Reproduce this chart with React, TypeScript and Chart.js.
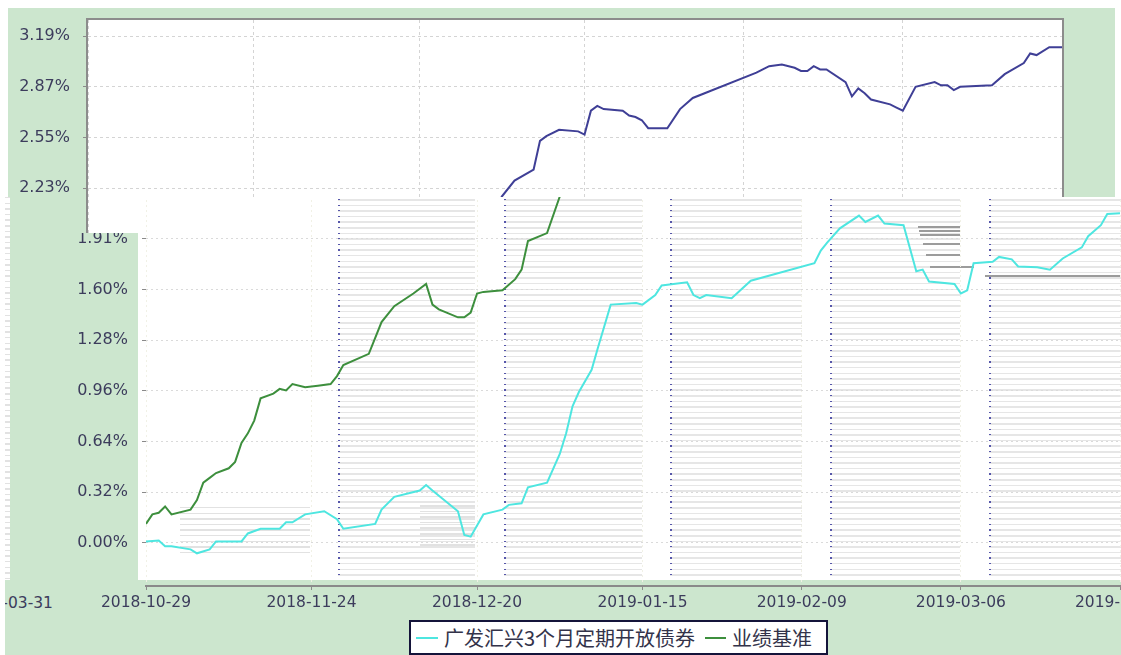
import React, { useEffect, useRef } from 'react';
import { Chart, registerables } from 'chart.js';

Chart.register(...registerables);

// ---- data (x = days since 2018-10-29) ----
const xTickDays = [0, 26, 52, 78, 103, 128, 153];
const xTickLabels = ['2018-10-29', '2018-11-24', '2018-12-20', '2019-01-15', '2019-02-09', '2019-03-06', '2019-03-31'];
const yTickValues = [0, 0.319, 0.638, 0.957, 1.276, 1.595, 1.914, 2.233, 2.552, 2.871, 3.19];
const yTickLabels = ['0.00%', '0.32%', '0.64%', '0.96%', '1.28%', '1.60%', '1.91%', '2.23%', '2.55%', '2.87%', '3.19%'];
const seriesNames = ['广发汇兴3个月定期开放债券', '业绩基准'];

const fundDays = [0, 2, 3, 4, 7, 8, 10, 11, 15, 16, 18, 21, 22, 23, 25, 28, 30, 31, 36, 37, 39, 43, 44, 45, 49, 50, 51, 53, 56, 57, 59, 60, 63, 65, 66, 67, 68, 70, 71, 73, 77, 78, 80, 81, 85, 86, 87, 88, 92, 95, 105, 106, 107, 109, 112, 113, 115, 116, 119, 121, 122, 123, 127, 128, 129, 130, 133, 134, 136, 137, 140, 142, 144, 147, 148, 150, 151, 153];
const fundValues = [0.01, 0.015, -0.02, -0.02, -0.04, -0.065, -0.04, 0.01, 0.01, 0.06, 0.09, 0.09, 0.13, 0.13, 0.18, 0.2, 0.15, 0.09, 0.12, 0.21, 0.29, 0.33, 0.365, 0.33, 0.2, 0.05, 0.04, 0.18, 0.21, 0.24, 0.25, 0.35, 0.38, 0.56, 0.69, 0.86, 0.95, 1.09, 1.23, 1.5, 1.51, 1.5, 1.56, 1.62, 1.64, 1.56, 1.54, 1.56, 1.54, 1.65, 1.76, 1.84, 1.89, 1.98, 2.06, 2.02, 2.06, 2.01, 2.0, 1.71, 1.72, 1.645, 1.63, 1.57, 1.59, 1.76, 1.77, 1.8, 1.785, 1.74, 1.735, 1.72, 1.79, 1.86, 1.93, 2.0, 2.07, 2.075];

const benchmarkDays = [0, 1, 2, 3, 4, 7, 8, 9, 10, 11, 13, 14, 15, 16, 17, 18, 20, 21, 22, 23, 25, 27, 29, 30, 31, 35, 37, 39, 42, 44, 45, 46, 49, 50, 51, 52, 53, 56, 58, 59, 60, 63, 65, 67, 70, 71, 72, 74, 77, 78, 79, 80, 81, 84, 85, 86, 87, 88, 91, 93, 95, 105, 106, 107, 109, 111, 112, 113, 114, 115, 116, 119, 120, 121, 122, 123, 126, 127, 128, 130, 133, 134, 135, 136, 137, 142, 144, 147, 148, 149, 151, 153];
const benchmarkValues = [0.12, 0.18, 0.19, 0.23, 0.18, 0.21, 0.27, 0.38, 0.41, 0.44, 0.47, 0.51, 0.63, 0.69, 0.77, 0.91, 0.94, 0.97, 0.96, 1.0, 0.98, 0.99, 1.0, 1.05, 1.12, 1.19, 1.39, 1.49, 1.57, 1.63, 1.5, 1.47, 1.42, 1.42, 1.45, 1.57, 1.58, 1.59, 1.66, 1.72, 1.9, 1.95, 2.18, 2.28, 2.35, 2.53, 2.56, 2.6, 2.59, 2.57, 2.72, 2.75, 2.73, 2.72, 2.69, 2.68, 2.66, 2.61, 2.61, 2.73, 2.8, 2.96, 2.98, 3.0, 3.01, 2.99, 2.97, 2.97, 3.0, 2.98, 2.98, 2.9, 2.81, 2.86, 2.83, 2.79, 2.76, 2.74, 2.72, 2.87, 2.9, 2.88, 2.88, 2.85, 2.87, 2.88, 2.95, 3.02, 3.08, 3.07, 3.12, 3.12];

const X_MIN = 0;
const X_MAX = 153;
const Y_MIN = -0.2706;
const Y_MAX = 3.2907;

const GREEN_BG = '#cce6ce';
const TEXT = '#3c3c5c';
const CYAN = '#4ee6e0';
const BENCH_GREEN = '#3d8f3d';
const BENCH_BLUE = '#3f3f96';
const FONT = 'DejaVu Sans';

function buildChart(canvas: HTMLCanvasElement, upper: boolean) {
  const framePlugin = {
    id: 'framePlugin',
    beforeDraw(chart: any) {
      if (!upper) return;
      const { ctx, chartArea } = chart;
      ctx.save();
      ctx.fillStyle = '#ffffff';
      ctx.fillRect(chartArea.left, chartArea.top, chartArea.right - chartArea.left, chartArea.bottom - chartArea.top);
      ctx.restore();
    },
    afterDraw(chart: any) {
      if (!upper) return;
      const { ctx, chartArea } = chart;
      ctx.save();
      ctx.strokeStyle = '#8c8c8c';
      ctx.lineWidth = 2;
      ctx.strokeRect(chartArea.left - 1, chartArea.top - 1, chartArea.right - chartArea.left + 2, chartArea.bottom - chartArea.top + 2);
      ctx.restore();
    },
  };

  return new Chart(canvas, {
    type: 'line',
    data: {
      datasets: [
        {
          label: seriesNames[0],
          data: fundDays.map((d, i) => ({ x: d, y: fundValues[i] })),
          borderColor: CYAN,
          backgroundColor: CYAN,
          borderWidth: 2,
        },
        {
          label: seriesNames[1],
          data: benchmarkDays.map((d, i) => ({ x: d, y: benchmarkValues[i] })),
          borderColor: upper ? BENCH_BLUE : BENCH_GREEN,
          backgroundColor: upper ? BENCH_BLUE : BENCH_GREEN,
          borderWidth: 2,
        },
      ],
    },
    options: {
      responsive: false,
      animation: false,
      layout: { padding: { left: 0, top: 12, right: upper ? 53 : 1, bottom: 0 } },
      elements: { point: { radius: 0 }, line: { tension: 0 } },
      plugins: { legend: { display: false }, tooltip: { enabled: false } },
      scales: {
        x: {
          type: 'linear',
          min: X_MIN,
          max: X_MAX,
          afterBuildTicks: (s: any) => {
            s.ticks = xTickDays.map((v) => ({ value: v }));
          },
          afterFit: (s: any) => {
            s.height = 69;
            s.paddingLeft = 0;
            s.paddingRight = 0;
          },
          ticks: {
            display: !upper,
            autoSkip: false,
            maxRotation: 0,
            minRotation: 0,
            padding: 4,
            color: TEXT,
            font: { family: FONT, size: 15.5 },
            callback: (_v: any, i: number) => xTickLabels[i],
          },
          grid: upper
            ? { color: '#d4d4d4', lineWidth: 1, drawTicks: false }
            : { color: '#f1f1e6', lineWidth: 1, tickLength: 4, tickColor: '#8a8a8a', tickWidth: 1 },
          border: upper
            ? { display: false, dash: [3, 3] }
            : { display: true, color: '#8a8a8a', width: 2, dash: [2, 3] },
        },
        y: {
          type: 'linear',
          min: Y_MIN,
          max: Y_MAX,
          afterBuildTicks: (s: any) => {
            s.ticks = yTickValues.map((v) => ({ value: v }));
          },
          afterFit: (s: any) => {
            s.width = upper ? 80 : 141;
            s.paddingTop = 0;
            s.paddingBottom = 0;
          },
          ticks: {
            padding: upper ? 13 : 14,
            color: TEXT,
            font: { family: FONT, size: 16 },
            callback: (_v: any, i: number) => yTickLabels[i],
          },
          grid: {
            color: upper ? '#d4d4d4' : '#dadada',
            lineWidth: 1,
            tickLength: upper ? 5 : 4,
            tickColor: '#8a8a8a',
            tickWidth: 1,
          },
          border: { display: false, dash: upper ? [3, 3] : [2, 3] },
        },
      },
    },
    plugins: [framePlugin],
  } as any);
}

function ChartCanvas({ upper, width, height }: { upper: boolean; width: number; height: number }) {
  const ref = useRef<HTMLCanvasElement>(null);
  useEffect(() => {
    if (!ref.current) return;
    const chart = buildChart(ref.current, upper);
    return () => chart.destroy();
  }, [upper]);
  return (
    <canvas
      ref={ref}
      width={width}
      height={height}
      style={{ position: 'absolute', left: 0, top: 0, width, height, background: upper ? GREEN_BG : 'transparent' }}
    />
  );
}

const stripeBg =
  'repeating-linear-gradient(to bottom, #5656aa 0px, #5656aa 1.2px, transparent 1.2px, transparent 5.6px), ' +
  'repeating-linear-gradient(to bottom, #e6e6e6 0px, #e6e6e6 1.5px, transparent 1.5px, transparent 5.6px)';
const plainStripe = 'repeating-linear-gradient(to bottom, #e2e2e2 0px, #e2e2e2 1.5px, transparent 1.5px, transparent 5.6px)';

export default function App() {
  const LX = 5;
  const LY = 8;
  // rendering-glitch texture, page coordinates
  const cols = [
    [338, 475],
    [504, 642],
    [670, 802],
    [830, 960],
    [989, 1121],
  ];
  const patches = [
    [180, 507, 130, 46],
    [420, 505, 55, 45],
  ];
  const darkBars = [
    [918, 226, 42],
    [919, 230, 41],
    [920, 234, 40],
    [923, 243, 37],
    [926, 254, 34],
    [930, 266, 44],
    [985, 275, 136],
  ];
  return (
    <div style={{ position: 'absolute', left: 0, top: 0, width: 1121, height: 655, overflow: 'hidden', background: '#fff' }}>
      {/* upper layer */}
      <div style={{ position: 'absolute', left: 8, top: 8, width: 1107, height: 647 }}>
        <ChartCanvas upper={true} width={1107} height={647} />
      </div>
      {/* lower layer */}
      <div
        style={{
          position: 'absolute',
          left: LX,
          top: LY,
          width: 1116,
          height: 647,
          overflow: 'hidden',
          clipPath: 'polygon(0px 189px, 72px 189px, 72px 225px, 133px 225px, 133px 189px, 1116px 189px, 1116px 647px, 0px 647px)',
          background: GREEN_BG,
        }}
      >
        <div style={{ position: 'absolute', left: 138 - LX, top: 20 - LY, width: 1121 - 138, height: 560, background: '#fff' }} />
        <div
          style={{
            position: 'absolute',
            left: 0,
            top: 197 - LY,
            width: 5,
            height: 383,
            background: '#fff',
            backgroundImage: plainStripe,
          }}
        />
        {patches.map(([x, y, w, h], i) => (
          <div key={'p' + i} style={{ position: 'absolute', left: x - LX, top: y - LY, width: w, height: h, backgroundImage: plainStripe }} />
        ))}
        {cols.map(([a, b], i) => (
          <div
            key={i}
            style={{
              position: 'absolute',
              left: a - LX,
              top: 199 - LY,
              width: b - a,
              height: 380,
              backgroundImage: stripeBg,
              backgroundSize: '2px 100%, 100% 100%',
              backgroundRepeat: 'no-repeat, no-repeat',
            }}
          />
        ))}
        {darkBars.map(([x, y, w], i) => (
          <div key={'d' + i} style={{ position: 'absolute', left: x - LX, top: y - LY, width: w, height: 2, background: '#9c9c9c' }} />
        ))}
        <span
          style={{
            position: 'absolute',
            right: 1116 - 48,
            top: 586,
            lineHeight: '18px',
            fontFamily: FONT,
            fontSize: 15.5,
            color: TEXT,
            whiteSpace: 'nowrap',
          }}
        >
          {xTickLabels[6]}
        </span>
        <ChartCanvas upper={false} width={1116} height={647} />
      </div>
      {/* legend */}
      <div
        style={{
          position: 'absolute',
          left: 409,
          top: 620,
          width: 419,
          height: 35,
          boxSizing: 'border-box',
          border: '2px solid #14143a',
          background: '#fff',
          display: 'flex',
          alignItems: 'center',
          paddingLeft: 5,
          fontFamily: '"Noto Sans CJK SC", sans-serif',
          fontSize: 20,
          color: '#33334a',
          whiteSpace: 'nowrap',
          lineHeight: '24px',
        }}
      >
        <span style={{ display: 'inline-block', width: 22, height: 2, background: CYAN, marginRight: 6 }} />
        <span>{seriesNames[0]}</span>
        <span style={{ display: 'inline-block', width: 21, height: 2, background: BENCH_GREEN, marginLeft: 10, marginRight: 6 }} />
        <span>{seriesNames[1]}</span>
      </div>
    </div>
  );
}
